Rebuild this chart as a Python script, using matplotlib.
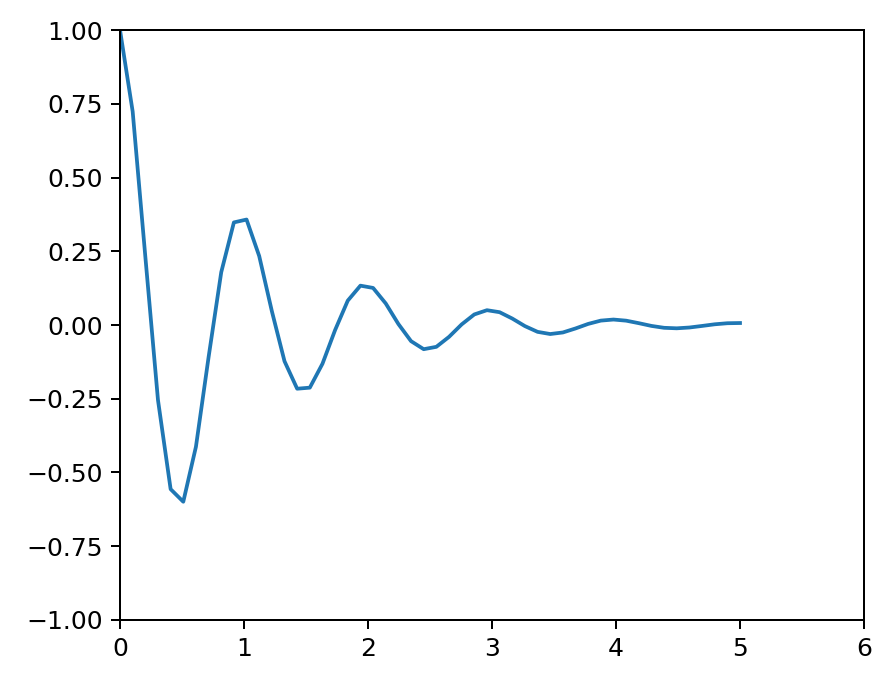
import matplotlib
matplotlib.use("Agg")
import matplotlib.pyplot as plt

x_values = [0.0, 0.10204, 0.20408, 0.30612, 0.40816, 0.5102, 0.61224, 0.71429, 0.81633, 0.91837,
            1.02041, 1.12245, 1.22449, 1.32653, 1.42857, 1.53061, 1.63265, 1.73469, 1.83673, 1.93878,
            2.04082, 2.14286, 2.2449, 2.34694, 2.44898, 2.55102, 2.65306, 2.7551, 2.85714, 2.95918,
            3.06122, 3.16327, 3.26531, 3.36735, 3.46939, 3.57143, 3.67347, 3.77551, 3.87755, 3.97959,
            4.08163, 4.18367, 4.28571, 4.38776, 4.4898, 4.59184, 4.69388, 4.79592, 4.89796, 5.0]
y_values = [1.0, 0.7237, 0.232, -0.2543, -0.5565, -0.5992, -0.4128, -0.109, 0.179, 0.3478,
            0.3575, 0.2338, 0.047, -0.1228, -0.216, -0.2124, -0.1314, -0.017, 0.0826, 0.1334,
            0.1257, 0.0731, 0.0034, -0.0547, -0.082, -0.074, -0.0403, 0.002, 0.0358, 0.0502,
            0.0434, 0.0219, -0.0037, -0.0232, -0.0306, -0.0253, -0.0117, 0.0037, 0.0149, 0.0185,
            0.0147, 0.0062, -0.0031, -0.0095, -0.0112, -0.0085, -0.0032, 0.0024, 0.006, 0.0067]

fig = plt.figure(figsize=(4.95, 3.8), dpi=180)
ax = fig.add_axes([0.1347, 0.0936, 0.835, 0.8625])
ax.plot(x_values, y_values, color="#1f77b4", linewidth=1.5)
ax.set_xlim(0, 6)
ax.set_ylim(-1, 1)
fig.savefig("out.png", dpi=180)
